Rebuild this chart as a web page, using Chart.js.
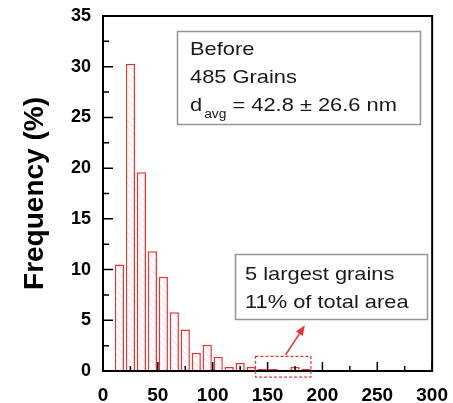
<!DOCTYPE html>
<html>
<head>
<meta charset="utf-8">
<title>Grain size distribution - Before</title>
<script src="https://cdn.jsdelivr.net/npm/chart.js@4.4.1/dist/chart.umd.min.js"></script>
<style>
  body { margin: 0; background: #fff; }
  #wrap { width: 453px; height: 403px; }
</style>
</head>
<body>
<div id="wrap"><canvas id="grainChart" width="453" height="403"></canvas></div>
<script>
// grain diameter bins (nm), 10 nm wide, listed by centre
const binCenters = [15, 25, 35, 45, 55, 65, 75, 85, 95, 105, 115, 125, 135, 145, 155, 165, 175, 185];
// frequency (%)
const frequency = [10.5, 30.3, 19.6, 11.8, 9.3, 5.8, 4.1, 1.8, 2.6, 1.4, 0.4, 0.8, 0.4, 0.2, 0.2, 0, 0.4, 0.2];
const xTicks = [0, 50, 100, 150, 200, 250, 300];
const yTicks = [0, 5, 10, 15, 20, 25, 30, 35];

const infoLines = ['Before', '485 Grains'];
const avgText = { base: 'd', sub: 'avg', rest: ' = 42.8 \u00B1 26.6 nm' };
const noteLines = ['5 largest grains', '11% of total area'];

// dashed box round the largest grains + arrow to the note (data units)
const largestBox = { x0: 139, x1: 189.5, y0: -0.6, y1: 1.45 };
const arrowFrom = { x: 166.5, y: 1.6 };
const arrowTo = { x: 184, y: 4.5 };

const FONT = '"Liberation Sans", Arial, sans-serif';
const RED = 'rgb(238,50,50)';

// faint pink diagonal hatch for the bars
function hatch() {
    const tile = document.createElement('canvas');
    tile.width = 7;
    tile.height = 7;
    const t = tile.getContext('2d');
    t.fillStyle = '#fff';
    t.fillRect(0, 0, 7, 7);
    t.strokeStyle = 'rgb(250,212,212)';
    t.lineWidth = 1;
    t.beginPath();
    t.moveTo(0, 0); t.lineTo(7, 7);
    t.moveTo(-1, 6); t.lineTo(1, 8);
    t.moveTo(6, -1); t.lineTo(8, 1);
    t.stroke();
    return document.getElementById('grainChart').getContext('2d').createPattern(tile, 'repeat');
}

// text a bit wider than the font, as in the original figure
function wideText(ctx, str, x, y, font) {
    ctx.save();
    ctx.translate(x, y);
    ctx.scale(1.15, 1);
    ctx.font = font;
    ctx.fillText(str, 0, 0);
    const w = ctx.measureText(str).width * 1.15;
    ctx.restore();
    return w;
}

const framePlugin = {
    id: 'frame',
    afterDatasetsDraw(chart) {
        const { ctx, chartArea: a, scales: { x, y } } = chart;
        ctx.save();

        // inward ticks, major + minor halfway
        ctx.strokeStyle = '#000';
        ctx.lineWidth = 1.5;
        ctx.beginPath();
        xTicks.forEach((v, i) => {
            const px = x.getPixelForValue(v);
            ctx.moveTo(px, a.bottom); ctx.lineTo(px, a.bottom - 9);
            if (i < xTicks.length - 1) {
                const mx = x.getPixelForValue((v + xTicks[i + 1]) / 2);
                ctx.moveTo(mx, a.bottom); ctx.lineTo(mx, a.bottom - 5);
            }
        });
        yTicks.forEach((v, i) => {
            const py = y.getPixelForValue(v);
            ctx.moveTo(a.left, py); ctx.lineTo(a.left + 10, py);
            if (i < yTicks.length - 1) {
                const my = y.getPixelForValue((v + yTicks[i + 1]) / 2);
                ctx.moveTo(a.left, my); ctx.lineTo(a.left + 6, my);
            }
        });
        ctx.stroke();

        // plot frame
        ctx.lineWidth = 2;
        ctx.strokeRect(a.left, a.top, a.right - a.left, a.bottom - a.top);

        // info box
        ctx.strokeStyle = 'rgb(150,150,150)';
        ctx.lineWidth = 1.5;
        ctx.strokeRect(177.5, 31.5, 243, 93);
        ctx.fillStyle = '#1a1a1a';
        ctx.textBaseline = 'alphabetic';
        wideText(ctx, infoLines[0], 190, 55, '19px ' + FONT);
        wideText(ctx, infoLines[1], 190, 83, '19px ' + FONT);
        let cx = 190;
        cx += wideText(ctx, avgText.base, cx, 111, '19px ' + FONT) + 2;
        cx += wideText(ctx, avgText.sub, cx, 118, '12px ' + FONT);
        wideText(ctx, avgText.rest, cx, 111, '19px ' + FONT);

        // note box
        ctx.strokeRect(235.5, 254.5, 192, 65);
        wideText(ctx, noteLines[0], 245, 280, '19px ' + FONT);
        wideText(ctx, noteLines[1], 245, 308, '19px ' + FONT);

        // dashed box round the largest grains
        ctx.strokeStyle = RED;
        ctx.lineWidth = 1.2;
        ctx.setLineDash([3, 2]);
        const bx0 = x.getPixelForValue(largestBox.x0), bx1 = x.getPixelForValue(largestBox.x1);
        const by0 = y.getPixelForValue(largestBox.y1), by1 = y.getPixelForValue(largestBox.y0);
        ctx.strokeRect(bx0, by0, bx1 - bx0, by1 - by0);
        ctx.setLineDash([]);

        // arrow
        const ax0 = x.getPixelForValue(arrowFrom.x), ay0 = y.getPixelForValue(arrowFrom.y);
        const ax1 = x.getPixelForValue(arrowTo.x), ay1 = y.getPixelForValue(arrowTo.y);
        const ang = Math.atan2(ay1 - ay0, ax1 - ax0);
        const head = 10;
        ctx.lineWidth = 1.5;
        ctx.beginPath();
        ctx.moveTo(ax0, ay0);
        ctx.lineTo(ax1 - head * 0.8 * Math.cos(ang), ay1 - head * 0.8 * Math.sin(ang));
        ctx.stroke();
        ctx.fillStyle = RED;
        ctx.beginPath();
        ctx.moveTo(ax1, ay1);
        ctx.lineTo(ax1 - head * Math.cos(ang) + 4 * Math.sin(ang), ay1 - head * Math.sin(ang) - 4 * Math.cos(ang));
        ctx.lineTo(ax1 - head * Math.cos(ang) - 4 * Math.sin(ang), ay1 - head * Math.sin(ang) + 4 * Math.cos(ang));
        ctx.closePath();
        ctx.fill();

        ctx.restore();
    }
};

const points = binCenters.map((c, i) => ({ x: c, y: frequency[i] }));

new Chart(document.getElementById('grainChart'), {
    type: 'bar',
    data: {
        datasets: [{
            data: points,
            backgroundColor: hatch(),
            borderColor: RED,
            borderWidth: 1.5,
            categoryPercentage: 1,
            barPercentage: 0.84
        }]
    },
    options: {
        responsive: false,
        animation: false,
        layout: { padding: { left: 0, top: 16, right: 17, bottom: 0 } },
        plugins: {
            legend: { display: false },
            tooltip: { enabled: false }
        },
        scales: {
            x: {
                type: 'linear',
                min: 0,
                max: 300,
                offset: false,
                grid: { display: false },
                border: { display: false },
                afterBuildTicks: s => { s.ticks = xTicks.map(v => ({ value: v })); },
                afterFit: s => { s.height = 32; },
                ticks: {
                    color: '#000',
                    padding: 5,
                    maxRotation: 0,
                    font: { family: FONT, size: 19, weight: 'bold' }
                }
            },
            y: {
                min: 0,
                max: 35,
                grid: { display: false },
                border: { display: false },
                afterBuildTicks: s => { s.ticks = yTicks.map(v => ({ value: v })); },
                afterFit: s => { s.width = 103; },
                ticks: {
                    color: '#000',
                    padding: 4,
                    font: { family: FONT, size: 18, weight: 'bold' }
                },
                title: {
                    display: true,
                    text: 'Frequency (%)',
                    color: '#000',
                    padding: { top: 18, bottom: 0 },
                    font: { family: FONT, size: 28, weight: 'bold' }
                }
            }
        }
    },
    plugins: [framePlugin]
});
</script>
</body>
</html>
